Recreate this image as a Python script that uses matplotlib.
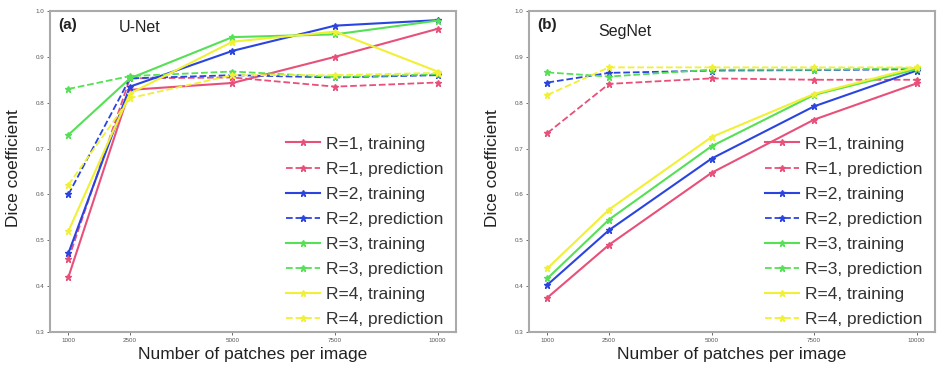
import matplotlib.pyplot as plt
import numpy as np

plt.rcParams['font.family'] = ['Liberation Sans', 'DejaVu Sans']

# data
patches = [1000, 2500, 5000, 7500, 10000]

unet_r1_train = [0.420, 0.828, 0.843, 0.900, 0.961]
unet_r1_pred = [0.459, 0.853, 0.855, 0.835, 0.844]
unet_r2_train = [0.472, 0.835, 0.913, 0.968, 0.980]
unet_r2_pred = [0.600, 0.853, 0.860, 0.855, 0.860]
unet_r3_train = [0.730, 0.853, 0.943, 0.949, 0.979]
unet_r3_pred = [0.830, 0.858, 0.868, 0.856, 0.862]
unet_r4_train = [0.520, 0.820, 0.933, 0.955, 0.868]
unet_r4_pred = [0.621, 0.810, 0.860, 0.860, 0.865]

segnet_r1_train = [0.375, 0.490, 0.647, 0.763, 0.842]
segnet_r1_pred = [0.734, 0.841, 0.853, 0.850, 0.850]
segnet_r2_train = [0.403, 0.522, 0.678, 0.792, 0.870]
segnet_r2_pred = [0.844, 0.865, 0.870, 0.871, 0.873]
segnet_r3_train = [0.417, 0.545, 0.705, 0.817, 0.873]
segnet_r3_pred = [0.866, 0.857, 0.872, 0.872, 0.875]
segnet_r4_train = [0.439, 0.567, 0.725, 0.819, 0.877]
segnet_r4_pred = [0.817, 0.877, 0.877, 0.877, 0.877]

colors = ['#e8507a', '#2a44e0', '#55e055', '#f0f035']
labels_r = ['R=1', 'R=2', 'R=3', 'R=4']

unet = [(unet_r1_train, unet_r1_pred), (unet_r2_train, unet_r2_pred),
        (unet_r3_train, unet_r3_pred), (unet_r4_train, unet_r4_pred)]
segnet = [(segnet_r1_train, segnet_r1_pred), (segnet_r2_train, segnet_r2_pred),
          (segnet_r3_train, segnet_r3_pred), (segnet_r4_train, segnet_r4_pred)]


def draw_panel(ax, series, tag, name):
    for (train, pred), c, r in zip(series, colors, labels_r):
        ax.plot(patches, train, '-', color=c, marker='*', markersize=5,
                linewidth=1.5, label=r + ', training')
        ax.plot(patches, pred, '--', color=c, marker='*', markersize=5,
                linewidth=1.3, label=r + ', prediction')
    ax.set_ylim(0.3, 1.0)
    ax.set_xticks(patches)
    ax.set_xticklabels([str(p) for p in patches])
    ax.set_yticks(np.arange(0.3, 1.01, 0.1))
    ax.set_yticklabels(['%.1f' % v for v in np.arange(0.3, 1.01, 0.1)])
    ax.tick_params(labelsize=4.5, length=2, width=0.6, colors='#555555', pad=2)
    for s in ax.spines.values():
        s.set_color('#aaaaaa')
        s.set_linewidth(1.5)
    ax.set_xlabel('Number of patches per image', fontsize=12.5, color='#222222', labelpad=3)
    ax.set_ylabel('Dice coefficient', fontsize=12.5, color='#222222')
    ax.yaxis.set_label_coords(-0.072, 0.51)
    ax.text(0.02, 0.955, tag, transform=ax.transAxes, fontsize=11,
            fontweight='bold', va='center', color='#222222')
    ax.text(0.17, 0.95 if tag == '(a)' else 0.935, name, transform=ax.transAxes,
            fontsize=11.5, va='center', color='#222222')
    leg = ax.legend(loc='lower right', bbox_to_anchor=(1.0, -0.022), fontsize=12.5,
                    frameon=False, handlelength=2.0, handletextpad=0.35,
                    labelspacing=0.57, borderpad=0.2)
    for t in leg.get_texts():
        t.set_color('#333333')


fig = plt.figure(figsize=(9.38, 3.66), dpi=100)
ax1 = fig.add_axes([0.0533, 0.093, 0.4328, 0.877])
ax2 = fig.add_axes([0.564, 0.093, 0.4328, 0.877])

draw_panel(ax1, unet, '(a)', 'U-Net')
draw_panel(ax2, segnet, '(b)', 'SegNet')

fig.savefig('out.png', dpi=100)
